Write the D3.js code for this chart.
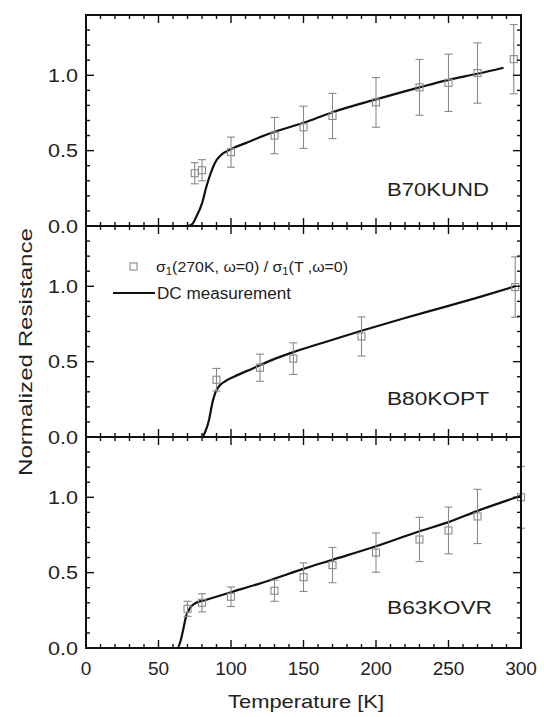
<!DOCTYPE html>
<html><head><meta charset="utf-8">
<script src="https://cdn.jsdelivr.net/npm/d3@7"></script>
<style>
body{margin:0;background:#fff}
svg{display:block}
text{font-family:"Liberation Sans",Arial,Helvetica,sans-serif;fill:#222}
</style></head>
<body><svg id="c" width="544" height="717"></svg>
<script>
// ---------- data ----------
const panelNames = ["B70KUND", "B80KOPT", "B63KOVR"];
const xTickLabels = [0, 50, 100, 150, 200, 250, 300];
const yTickLabels = [0.0, 0.5, 1.0];
const xLabel = "Temperature [K]";
const yLabel = "Normalized Resistance";

// optical ratio points (T, R, error)
const undT   = [75, 80, 100, 130, 150, 170, 200, 230, 250, 270, 295];
const undR   = [0.35, 0.37, 0.49, 0.60, 0.655, 0.73, 0.82, 0.92, 0.95, 1.015, 1.107];
const undErr = [0.07, 0.07, 0.10, 0.12, 0.14, 0.15, 0.165, 0.185, 0.19, 0.20, 0.23];

const optT   = [90, 120, 143, 190, 296];
const optR   = [0.38, 0.46, 0.52, 0.667, 0.995];
const optErr = [0.075, 0.09, 0.105, 0.13, 0.20];

const ovrT   = [70, 80, 100, 130, 150, 170, 200, 230, 250, 270, 300];
const ovrR   = [0.26, 0.30, 0.34, 0.38, 0.47, 0.55, 0.633, 0.72, 0.78, 0.873, 1.0];
const ovrErr = [0.05, 0.06, 0.065, 0.07, 0.095, 0.117, 0.13, 0.147, 0.155, 0.18, 0.205];

// DC measurement curves
const undDcT = [0, 70, 73, 76, 80, 83, 86, 89, 93, 100, 110, 127, 150, 170, 200, 230, 250, 270, 288];
const undDcR = [0, 0, 0.01, 0.06, 0.15, 0.26, 0.35, 0.42, 0.47, 0.51, 0.55, 0.615, 0.685, 0.755, 0.84, 0.92, 0.97, 1.01, 1.05];

const optDcT = [0, 80, 82, 85, 87, 89, 92, 96, 102, 115, 128, 142, 160, 190, 220, 250, 270, 296];
const optDcR = [0, 0, 0.03, 0.12, 0.22, 0.29, 0.34, 0.37, 0.40, 0.455, 0.51, 0.56, 0.615, 0.705, 0.79, 0.87, 0.925, 1.0];

const ovrDcT = [0, 63, 65, 67, 69, 72, 76, 83, 100, 127, 150, 170, 200, 230, 250, 270, 300];
const ovrDcR = [0, 0, 0.04, 0.12, 0.21, 0.27, 0.30, 0.32, 0.37, 0.45, 0.525, 0.585, 0.675, 0.775, 0.835, 0.91, 1.01];

// ---------- layout ----------
const svg = d3.select("#c");
const L = 86, R = 521, T0 = 15, B = 648;
const ph = (B - T0) / 3;
const x = d3.scaleLinear().domain([0, 300]).range([L, R]);

const panels = [
  {name: panelNames[0], T: undT, Rv: undR, E: undErr, dT: undDcT, dR: undDcR, lab: [387, 196, 102]},
  {name: panelNames[1], T: optT, Rv: optR, E: optErr, dT: optDcT, dR: optDcR, lab: [387, 405, 102]},
  {name: panelNames[2], T: ovrT, Rv: ovrR, E: ovrErr, dT: ovrDcT, dR: ovrDcR, lab: [387, 614, 105]}
];

const grey = "#8a8a8a";

panels.forEach((p, i) => {
  const top = T0 + i * ph, bot = top + ph;
  const y = d3.scaleLinear().domain([0, 1.4]).range([bot, top]);
  const g = svg.append("g");

  // DC line
  const line = d3.line().x((d, k) => x(p.dT[k])).y((d, k) => y(p.dR[k])).curve(d3.curveMonotoneX);
  g.append("path").datum(p.dT).attr("d", line)
    .attr("fill", "none").attr("stroke", "#111").attr("stroke-width", 2.2);

  // error bars
  const eb = g.append("g").attr("stroke", grey).attr("stroke-width", 1.1).attr("fill", "none");
  p.T.forEach((t, k) => {
    const cx = x(t), y1 = y(p.Rv[k] + p.E[k]), y2 = y(p.Rv[k] - p.E[k]);
    eb.append("line").attr("x1", cx).attr("x2", cx).attr("y1", y1).attr("y2", y2);
    eb.append("line").attr("x1", cx - 4).attr("x2", cx + 4).attr("y1", y1).attr("y2", y1);
    eb.append("line").attr("x1", cx - 4).attr("x2", cx + 4).attr("y1", y2).attr("y2", y2);
  });
  // squares
  g.selectAll("rect.pt").data(p.T).enter().append("rect")
    .attr("x", (d) => x(d) - 3.5).attr("y", (d, k) => y(p.Rv[k]) - 3.5)
    .attr("width", 7).attr("height", 7)
    .attr("fill", "none").attr("stroke", grey).attr("stroke-width", 1.1);

  // ticks
  const tk = g.append("g").attr("stroke", "#111").attr("stroke-width", 1.4);
  d3.range(0, 301, 10).forEach(v => {
    const len = v % 50 === 0 ? 8 : 4;
    tk.append("line").attr("x1", x(v)).attr("x2", x(v)).attr("y1", bot).attr("y2", bot - len);
    tk.append("line").attr("x1", x(v)).attr("x2", x(v)).attr("y1", top).attr("y2", top + len);
  });
  d3.range(0, 15, 1).map(v => v / 10).forEach(v => {
    const major = Math.abs(v - 0.5) < 1e-6 || Math.abs(v - 1.0) < 1e-6 || v === 0;
    const len = major ? 8 : 4;
    tk.append("line").attr("x1", L).attr("x2", L + len).attr("y1", y(v)).attr("y2", y(v));
    tk.append("line").attr("x1", R).attr("x2", R - len).attr("y1", y(v)).attr("y2", y(v));
  });

  // frame
  g.append("rect").attr("x", L).attr("y", top).attr("width", R - L).attr("height", ph)
    .attr("fill", "none").attr("stroke", "#111").attr("stroke-width", 2);

  // y tick labels
  yTickLabels.forEach(v => {
    g.append("text").attr("x", 78).attr("y", y(v)).attr("dy", "0.36em")
      .attr("text-anchor", "end").attr("font-size", 19)
      .attr("textLength", 30).attr("lengthAdjust", "spacingAndGlyphs")
      .text(v.toFixed(1));
  });

  // panel label
  g.append("text").attr("x", p.lab[0]).attr("y", p.lab[1]).attr("font-size", 19)
    .attr("textLength", p.lab[2]).attr("lengthAdjust", "spacingAndGlyphs").text(p.name);
});

// x tick labels
xTickLabels.forEach(v => {
  svg.append("text").attr("x", x(v)).attr("y", 675).attr("text-anchor", "middle")
    .attr("font-size", 19).text(v);
});

// axis titles
svg.append("text").attr("x", 306).attr("y", 708).attr("text-anchor", "middle")
  .attr("font-size", 19).attr("textLength", 156).attr("lengthAdjust", "spacingAndGlyphs")
  .text(xLabel);
svg.append("text").attr("transform", "translate(32,352) rotate(-90)").attr("text-anchor", "middle")
  .attr("font-size", 19).attr("textLength", 248).attr("lengthAdjust", "spacingAndGlyphs")
  .text(yLabel);

// legend
const lg = svg.append("g");
lg.append("rect").attr("x", 130).attr("y", 263).attr("width", 7).attr("height", 7)
  .attr("fill", "none").attr("stroke", grey).attr("stroke-width", 1.1);
const t1 = lg.append("text").attr("x", 156).attr("y", 272).attr("font-size", 14)
  .attr("textLength", 192).attr("lengthAdjust", "spacingAndGlyphs");
t1.append("tspan").text("σ");
t1.append("tspan").attr("font-size", 10).attr("dy", 3).text("1");
t1.append("tspan").attr("dy", -3).text("(270K, ω=0) / σ");
t1.append("tspan").attr("font-size", 10).attr("dy", 3).text("1");
t1.append("tspan").attr("dy", -3).text("(T ,ω=0)");
lg.append("line").attr("x1", 113).attr("x2", 155).attr("y1", 293).attr("y2", 293)
  .attr("stroke", "#111").attr("stroke-width", 2.2);
lg.append("text").attr("x", 157).attr("y", 298.5).attr("font-size", 16)
  .attr("textLength", 134).attr("lengthAdjust", "spacingAndGlyphs").text("DC measurement");
</script></body></html>
